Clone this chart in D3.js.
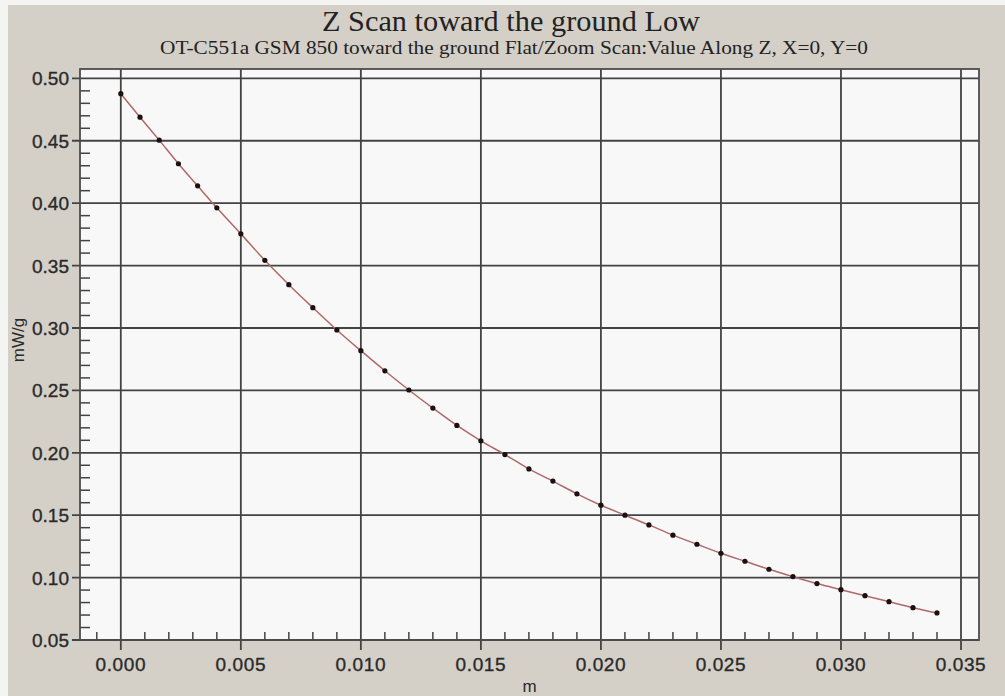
<!DOCTYPE html>
<html>
<head>
<meta charset="utf-8">
<script src="https://cdn.jsdelivr.net/npm/d3@7"></script>
<style>
  html, body { margin: 0; padding: 0; background: #f4f4f2; }
  svg { display: block; }
</style>
</head>
<body>
<svg id="chart" width="1005" height="696"></svg>
<script>
// Measurement positions along Z (m) and field values (mW/g)
const zPositions = [0, 0.0008, 0.0016, 0.0024, 0.0032, 0.004,
  0.005, 0.006, 0.007, 0.008, 0.009, 0.010, 0.011, 0.012, 0.013, 0.014,
  0.015, 0.016, 0.017, 0.018, 0.019, 0.020, 0.021, 0.022, 0.023, 0.024,
  0.025, 0.026, 0.027, 0.028, 0.029, 0.030, 0.031, 0.032, 0.033, 0.034];
const values = [0.4877, 0.4689, 0.4505, 0.4316, 0.4139, 0.3963,
  0.3754, 0.3542, 0.3347, 0.3163, 0.2984, 0.2818, 0.2657, 0.2503, 0.2358, 0.2219,
  0.2096, 0.1986, 0.1871, 0.1773, 0.1671, 0.1580, 0.1500, 0.1422, 0.1340, 0.1267,
  0.1195, 0.1131, 0.1067, 0.1008, 0.0952, 0.0903, 0.0855, 0.0807, 0.0759, 0.0717];

const xMajorTicks = [0, 0.005, 0.010, 0.015, 0.020, 0.025, 0.030, 0.035];
const yMajorTicks = [0.05, 0.10, 0.15, 0.20, 0.25, 0.30, 0.35, 0.40, 0.45, 0.50];
const xMinorStep = 0.001;
const yMinorStep = 0.01;

const titleText = "Z Scan toward the ground Low";
const subtitleText = "OT-C551a GSM 850 toward the ground Flat/Zoom Scan:Value Along Z, X=0, Y=0";
const xLabel = "m";
const yLabel = "mW/g";

const svg = d3.select("#chart");
const W = 1005, H = 696;
const box = { left: 80, right: 979, top: 69, bottom: 640 };

const x = d3.scaleLinear().domain([-0.0017, 0.03575]).range([box.left, box.right]);
const y = d3.scaleLinear().domain([0.05, 0.5075]).range([box.bottom, box.top]);

// window panel
svg.append("rect").attr("x", 8).attr("y", 5).attr("width", W - 8).attr("height", H - 5)
  .attr("fill", "#d4d0c8");

// plot background
svg.append("rect")
  .attr("x", box.left).attr("y", box.top)
  .attr("width", box.right - box.left).attr("height", box.bottom - box.top)
  .attr("fill", "#f8f8f8");

const gridColor = "#434343";

// vertical grid lines (extend below the axis as major ticks)
svg.append("g").selectAll("line").data(xMajorTicks).join("line")
  .attr("x1", d => x(d)).attr("x2", d => x(d))
  .attr("y1", box.top).attr("y2", box.bottom + 10)
  .attr("stroke", gridColor).attr("stroke-width", 1.8);

// horizontal grid lines (extend left of the axis as major ticks)
svg.append("g").selectAll("line").data(yMajorTicks).join("line")
  .attr("x1", box.left - 8).attr("x2", box.right)
  .attr("y1", d => y(d)).attr("y2", d => y(d))
  .attr("stroke", gridColor).attr("stroke-width", 1.8);

// minor ticks on the bottom axis
const xMinor = d3.range(-1, 36).map(i => i * xMinorStep)
  .filter(v => x(v) > box.left && Math.abs(Math.round(v / 0.005) * 0.005 - v) > 1e-9);
svg.append("g").selectAll("line").data(xMinor).join("line")
  .attr("x1", d => x(d)).attr("x2", d => x(d))
  .attr("y1", box.bottom).attr("y2", box.bottom - 8)
  .attr("stroke", gridColor).attr("stroke-width", 1.5);

// minor ticks on the left axis
const yMinor = d3.range(5, 51).map(i => i * yMinorStep)
  .filter(v => Math.abs(Math.round(v / 0.05) * 0.05 - v) > 1e-9);
svg.append("g").selectAll("line").data(yMinor).join("line")
  .attr("x1", box.left).attr("x2", box.left + 10)
  .attr("y1", d => y(d)).attr("y2", d => y(d))
  .attr("stroke", gridColor).attr("stroke-width", 1.5);

// plot frame
svg.append("rect")
  .attr("x", box.left).attr("y", box.top)
  .attr("width", box.right - box.left).attr("height", box.bottom - box.top)
  .attr("fill", "none").attr("stroke", "#4c4c4c").attr("stroke-width", 1.8);

// tick labels
const labelFont = "'Liberation Sans', Arial, sans-serif";
const labelColor = "#2a2a2a";
svg.append("g").selectAll("text").data(yMajorTicks).join("text")
  .attr("x", box.left - 11).attr("y", d => y(d) + 7)
  .attr("text-anchor", "end")
  .attr("font-family", labelFont).attr("font-size", 19).attr("fill", labelColor)
  .attr("stroke", labelColor).attr("stroke-width", 0.35)
  .text(d => d3.format(".2f")(d));

svg.append("g").selectAll("text").data(xMajorTicks).join("text")
  .attr("x", d => x(d)).attr("y", box.bottom + 31)
  .attr("text-anchor", "middle")
  .attr("font-family", labelFont).attr("font-size", 19).attr("fill", labelColor)
  .attr("stroke", labelColor).attr("stroke-width", 0.35)
  .attr("letter-spacing", 0.6)
  .text(d => d3.format(".3f")(d));

// axis titles
svg.append("text")
  .attr("x", (box.left + box.right) / 2).attr("y", 692)
  .attr("text-anchor", "middle")
  .attr("font-family", labelFont).attr("font-size", 17).attr("fill", labelColor)
  .text(xLabel);

svg.append("text")
  .attr("transform", "translate(24,340) rotate(-90)")
  .attr("text-anchor", "middle")
  .attr("font-family", labelFont).attr("font-size", 17).attr("fill", labelColor)
  .text(yLabel);

// titles
svg.append("text")
  .attr("x", 511).attr("y", 31)
  .attr("text-anchor", "middle")
  .attr("font-family", "'Liberation Serif', 'Times New Roman', serif")
  .attr("font-size", 29).attr("fill", "#222")
  .attr("textLength", 378).attr("lengthAdjust", "spacingAndGlyphs")
  .text(titleText);

svg.append("text")
  .attr("x", 514).attr("y", 54)
  .attr("text-anchor", "middle")
  .attr("font-family", "'Liberation Serif', 'Times New Roman', serif")
  .attr("font-size", 18).attr("fill", "#222")
  .attr("textLength", 708).attr("lengthAdjust", "spacingAndGlyphs")
  .text(subtitleText);

// data curve and markers
const pts = zPositions.map((z, i) => [z, values[i]]);
const line = d3.line().x(d => x(d[0])).y(d => y(d[1])).curve(d3.curveMonotoneX);
svg.append("path").datum(pts)
  .attr("d", line)
  .attr("fill", "none").attr("stroke", "#b06868").attr("stroke-width", 1.5);

svg.append("g").selectAll("circle").data(pts).join("circle")
  .attr("cx", d => x(d[0])).attr("cy", d => y(d[1]))
  .attr("r", 2.6).attr("fill", "#1a1010");
</script>
</body>
</html>
